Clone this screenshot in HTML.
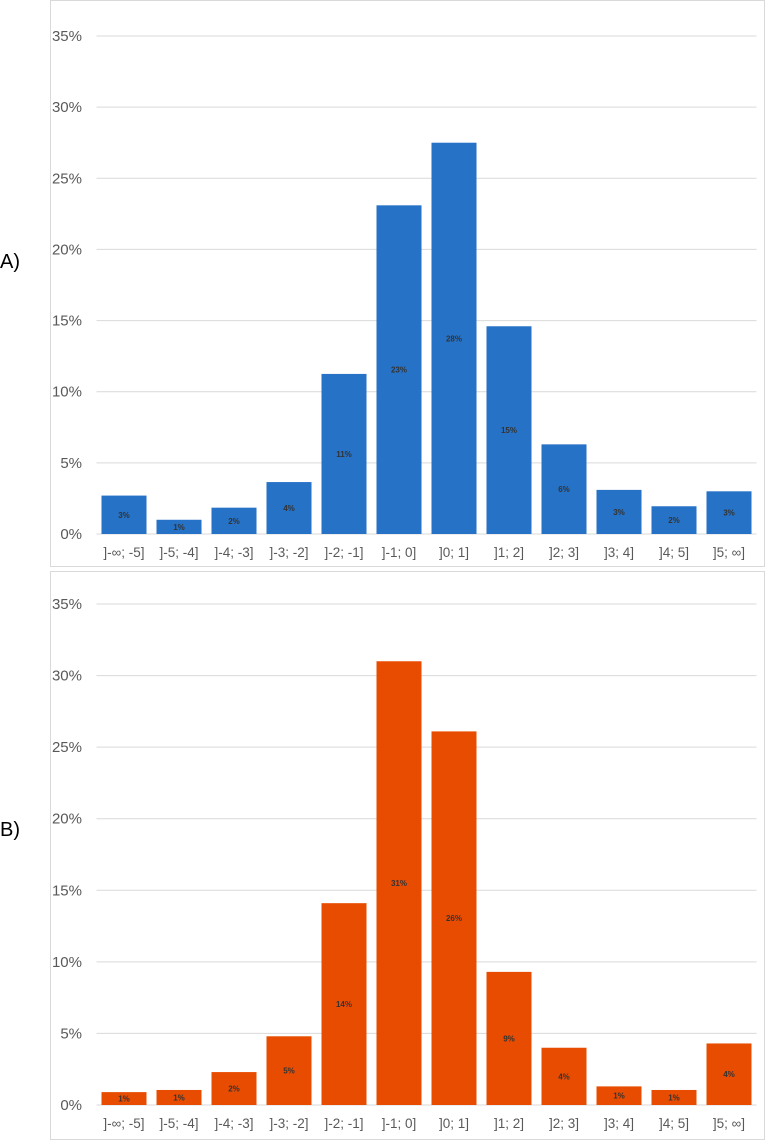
<!DOCTYPE html>
<html><head><meta charset="utf-8"><style>
body{margin:0;background:#fff;font-family:"Liberation Sans",sans-serif}
svg{display:block}
</style></head><body>
<svg id="s" width="767" height="1142">
<rect x="50.5" y="0.5" width="714" height="566" fill="#fff" stroke="#d9d9d9"/>
<rect x="50.5" y="571.5" width="714" height="568" fill="#fff" stroke="#d9d9d9"/>
<text x="0" y="268" font-size="20" fill="#000">A)</text>
<text x="0" y="836" font-size="20" fill="#000">B)</text>
<g id="ga"></g><g id="gb"></g>
</svg>
<script>
const categories=["]-∞; -5]","]-5; -4]","]-4; -3]","]-3; -2]","]-2; -1]","]-1; 0]","]0; 1]","]1; 2]","]2; 3]","]3; 4]","]4; 5]","]5; ∞]"];
const valuesA=[2.7,1.0,1.85,3.65,11.25,23.1,27.5,14.6,6.3,3.1,1.95,3.0];
const labelsA=["3%","1%","2%","4%","11%","23%","28%","15%","6%","3%","2%","3%"];
const valuesB=[0.9,1.05,2.3,4.8,14.1,31.0,26.1,9.3,4.0,1.3,1.05,4.3];
const labelsB=["1%","1%","2%","5%","14%","31%","26%","9%","4%","1%","1%","4%"];
const ticks=[0,5,10,15,20,25,30,35];
const NS="http://www.w3.org/2000/svg";
function mk(p,t,a){const e=document.createElementNS(NS,t);for(const k in a)e.setAttribute(k,a[k]);p.appendChild(e);return e;}
function chart(g,vals,labs,y0,y35,color,name){
  const x0=96.5,band=55;
  const y=v=>y0-(v/35)*(y0-y35);
  ticks.forEach(t=>{
    const l=mk(g,"line",{x1:x0,x2:x0+band*12,y1:y(t),y2:y(t),stroke:"#d9d9d9","stroke-width":1});
    
    
    const tx=mk(g,"text",{x:82,y:y(t)+5,"text-anchor":"end","font-size":15,fill:"#595959"});
    tx.textContent=t+"%";
    
    
  });
  vals.forEach((v,i)=>{
    const cx=x0+band*(i+0.5);
    const r=mk(g,"rect",{x:cx-22.5,y:y(v),width:45,height:y0-y(v),fill:color});
    
    
    const t=mk(g,"text",{x:cx,y:(y(v)+y0)/2+3,"text-anchor":"middle","font-size":8,"font-weight":"bold",fill:"#333"});
    t.textContent=labs[i];
    
    
    const c=mk(g,"text",{x:cx,y:y0+23,"text-anchor":"middle","font-size":13.5,fill:"#595959"});
    c.textContent=categories[i];
    
    
  });
}
chart(document.getElementById("ga"),valuesA,labelsA,534,36,"#2672C6","chart-a");
chart(document.getElementById("gb"),valuesB,labelsB,1105,604,"#E84C00","chart-b");
</script>
</body></html>
